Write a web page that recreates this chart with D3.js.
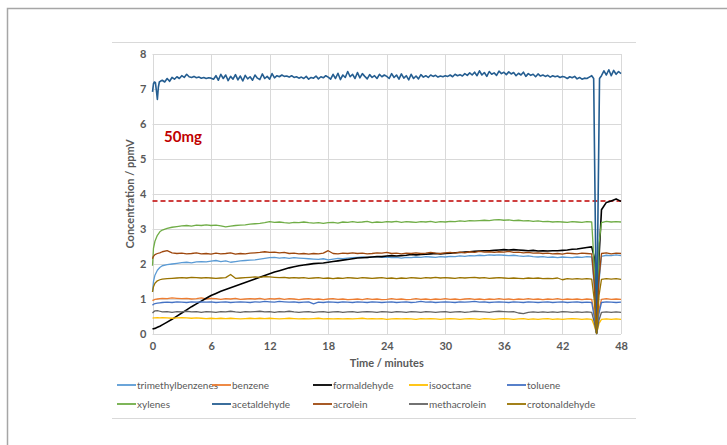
<!DOCTYPE html>
<html>
<head>
<meta charset="utf-8">
<script src="https://cdn.jsdelivr.net/npm/d3@7"></script>
<style>
  html, body { margin: 0; padding: 0; background: #fff; }
  svg { display: block; font-family: Lato, "Open Sans", sans-serif; }
</style>
</head>
<body>
<svg id="chart" width="727" height="445"></svg>
<script>
// sampling times (minutes) shared by most series
const times = [0, 0.1, 0.25, 0.5, 0.75, 1,
  1.5, 2, 2.5, 3, 3.5, 4, 4.5, 5,
  5.5, 6, 6.5, 7, 7.5, 8, 8.5, 9, 9.5, 10,
  10.5, 11, 11.5, 12, 12.5, 13, 13.5, 14, 14.5, 15,
  15.5, 16, 16.5, 17, 17.5, 18, 18.5, 19, 19.5, 20,
  20.5, 21, 21.5, 22, 22.5, 23, 23.5, 24, 24.5, 25,
  25.5, 26, 26.5, 27, 27.5, 28, 28.5, 29, 29.5, 30,
  30.5, 31, 31.5, 32, 32.5, 33, 33.5, 34, 34.5, 35,
  35.5, 36, 36.5, 37, 37.5, 38, 38.5, 39, 39.5, 40,
  40.5, 41, 41.5, 42, 42.5, 43, 43.5, 44, 44.5, 45,
  45.25, 45.5, 45.75, 46, 46.5, 47, 47.5, 48];

const trimethylbenzenes = [1.20, 1.50, 1.68, 1.82, 1.90, 1.95,
  1.98, 2.00, 2.02, 2.04, 2.05, 2.03, 2.06, 2.07,
  2.06, 2.08, 2.10, 2.07, 2.09, 2.05, 2.07, 2.09, 2.10, 2.11,
  2.12, 2.14, 2.16, 2.18, 2.19, 2.17, 2.18, 2.16, 2.18, 2.17,
  2.16, 2.15, 2.14, 2.13, 2.15, 2.12, 2.14, 2.16, 2.15, 2.17,
  2.18, 2.19, 2.20, 2.18, 2.20, 2.21, 2.19, 2.20, 2.18, 2.19,
  2.17, 2.19, 2.18, 2.20, 2.19, 2.21, 2.20, 2.19, 2.21, 2.20,
  2.22, 2.21, 2.23, 2.22, 2.24, 2.23, 2.25, 2.24, 2.26, 2.25,
  2.26, 2.25, 2.24, 2.25, 2.23, 2.22, 2.23, 2.21, 2.20, 2.21,
  2.19, 2.20, 2.18, 2.20, 2.19, 2.18, 2.20, 2.19, 2.21, 2.20,
  1.40, 0.02, 1.50, 2.22, 2.25, 2.24, 2.26, 2.24];

const benzene = [0.95, 0.97, 0.99, 1.00, 1.01, 1.02,
  1.01, 1.03, 1.02, 1.01, 1.02, 1.00, 1.01, 1.03,
  1.00, 1.02, 1.01, 0.99, 1.01, 1.00, 1.02, 0.99, 1.00, 1.01,
  1.00, 1.02, 0.99, 1.01, 1.00, 1.02, 0.99, 1.01, 1.00, 0.98,
  1.00, 1.01, 0.99, 1.00, 0.98, 1.00, 1.01, 0.99, 1.00, 0.98,
  0.99, 1.00, 0.98, 1.01, 0.99, 1.00, 0.98, 0.99, 1.01, 0.99,
  1.00, 0.98, 0.99, 1.01, 0.99, 1.00, 0.98, 1.00, 0.99, 1.01,
  0.99, 1.00, 0.98, 1.00, 1.01, 0.99, 1.00, 0.98, 1.00, 0.99,
  1.01, 0.99, 1.00, 0.98, 1.00, 0.99, 1.01, 0.99, 1.00, 0.98,
  1.00, 0.99, 1.01, 0.98, 1.00, 0.99, 1.00, 0.98, 1.00, 0.99,
  0.60, 0.02, 0.70, 0.99, 1.01, 0.99, 1.00, 0.99];

const formaldehyde = [0.14, 0.15, 0.16, 0.19, 0.22, 0.26,
  0.34, 0.42, 0.51, 0.60, 0.69, 0.78, 0.86, 0.94,
  1.02, 1.10, 1.16, 1.22, 1.27, 1.32, 1.37, 1.42, 1.47, 1.52,
  1.57, 1.62, 1.67, 1.72, 1.77, 1.81, 1.85, 1.89, 1.92, 1.95,
  1.97, 1.99, 2.01, 2.02, 2.03, 2.05, 2.07, 2.09, 2.11, 2.13,
  2.15, 2.17, 2.18, 2.19, 2.20, 2.21, 2.21, 2.23, 2.24, 2.23,
  2.24, 2.25, 2.27, 2.26, 2.27, 2.28, 2.29, 2.30, 2.29, 2.30,
  2.31, 2.32, 2.33, 2.34, 2.35, 2.36, 2.37, 2.38, 2.38, 2.39,
  2.40, 2.41, 2.40, 2.41, 2.40, 2.39, 2.38, 2.39, 2.37, 2.38,
  2.37, 2.38, 2.38, 2.39, 2.40, 2.42, 2.43, 2.45, 2.47, 2.49,
  2.20, 0.05, 2.20, 3.55, 3.76, 3.80, 3.86, 3.79];

const isooctane = [0.45, 0.46, 0.46, 0.47, 0.46, 0.47,
  0.46, 0.45, 0.46, 0.47, 0.46, 0.45, 0.46, 0.45,
  0.44, 0.45, 0.44, 0.45, 0.44, 0.45, 0.44, 0.43, 0.44, 0.45,
  0.44, 0.45, 0.44, 0.45, 0.44, 0.43, 0.44, 0.45, 0.44, 0.43,
  0.44, 0.43, 0.44, 0.45, 0.43, 0.44, 0.43, 0.44, 0.43, 0.44,
  0.43, 0.44, 0.45, 0.43, 0.44, 0.43, 0.44, 0.42, 0.43, 0.44,
  0.43, 0.44, 0.43, 0.42, 0.44, 0.43, 0.44, 0.43, 0.42, 0.43,
  0.44, 0.43, 0.42, 0.43, 0.44, 0.43, 0.42, 0.44, 0.43, 0.42,
  0.43, 0.44, 0.43, 0.42, 0.43, 0.44, 0.42, 0.43, 0.42, 0.43,
  0.44, 0.42, 0.43, 0.42, 0.43, 0.44, 0.43, 0.42, 0.43, 0.42,
  0.25, 0.01, 0.30, 0.42, 0.43, 0.42, 0.43, 0.42];

const toluene = [0.82, 0.85, 0.87, 0.88, 0.89, 0.90,
  0.91, 0.90, 0.92, 0.91, 0.90, 0.92, 0.91, 0.92,
  0.91, 0.92, 0.90, 0.91, 0.92, 0.90, 0.91, 0.92, 0.91, 0.90,
  0.92, 0.91, 0.93, 0.92, 0.91, 0.93, 0.92, 0.91, 0.92, 0.90,
  0.91, 0.92, 0.86, 0.91, 0.90, 0.92, 0.91, 0.90, 0.92, 0.91,
  0.90, 0.92, 0.91, 0.90, 0.92, 0.91, 0.90, 0.91, 0.92, 0.90,
  0.91, 0.92, 0.90, 0.91, 0.93, 0.91, 0.92, 0.90, 0.91, 0.92,
  0.91, 0.90, 0.92, 0.91, 0.92, 0.93, 0.91, 0.92, 0.90, 0.91,
  0.92, 0.91, 0.90, 0.92, 0.91, 0.90, 0.92, 0.91, 0.90, 0.91,
  0.92, 0.90, 0.91, 0.92, 0.90, 0.91, 0.92, 0.90, 0.91, 0.90,
  0.50, 0.01, 0.60, 0.90, 0.92, 0.91, 0.90, 0.91];

const xylenes = [1.95, 2.45, 2.65, 2.82, 2.92, 2.97,
  3.02, 3.05, 3.07, 3.09, 3.10, 3.08, 3.11, 3.10,
  3.12, 3.10, 3.11, 3.09, 3.06, 3.08, 3.10, 3.11, 3.12, 3.14,
  3.15, 3.16, 3.18, 3.21, 3.19, 3.20, 3.18, 3.17, 3.19, 3.18,
  3.20, 3.18, 3.17, 3.18, 3.16, 3.18, 3.19, 3.17, 3.20, 3.19,
  3.21, 3.19, 3.20, 3.22, 3.18, 3.20, 3.19, 3.21, 3.20, 3.22,
  3.19, 3.21, 3.20, 3.19, 3.21, 3.20, 3.22, 3.19, 3.21, 3.20,
  3.22, 3.21, 3.23, 3.22, 3.24, 3.23, 3.24, 3.25, 3.24, 3.26,
  3.27, 3.25, 3.26, 3.24, 3.25, 3.23, 3.24, 3.22, 3.23, 3.21,
  3.22, 3.20, 3.21, 3.20, 3.19, 3.21, 3.20, 3.19, 3.21, 3.20,
  2.00, 0.03, 2.60, 3.18, 3.22, 3.20, 3.21, 3.20];

const acrolein = [2.15, 2.22, 2.27, 2.30, 2.32, 2.35,
  2.38, 2.32, 2.30, 2.31, 2.29, 2.30, 2.32, 2.29,
  2.30, 2.28, 2.31, 2.29, 2.30, 2.32, 2.28, 2.30, 2.29, 2.31,
  2.32, 2.33, 2.35, 2.33, 2.34, 2.32, 2.33, 2.30, 2.31, 2.29,
  2.30, 2.28, 2.30, 2.29, 2.31, 2.38, 2.30, 2.29, 2.31, 2.30,
  2.32, 2.30, 2.31, 2.29, 2.30, 2.32, 2.31, 2.33, 2.30, 2.31,
  2.29, 2.31, 2.30, 2.32, 2.30, 2.31, 2.33, 2.31, 2.30, 2.32,
  2.33, 2.31, 2.34, 2.32, 2.35, 2.33, 2.36, 2.34, 2.35, 2.33,
  2.35, 2.34, 2.36, 2.33, 2.34, 2.32, 2.33, 2.31, 2.32, 2.30,
  2.31, 2.29, 2.30, 2.28, 2.31, 2.30, 2.29, 2.31, 2.30, 2.29,
  1.50, 0.02, 1.60, 2.30, 2.32, 2.29, 2.31, 2.30];

const methacrolein = [0.60, 0.63, 0.66, 0.67, 0.65, 0.63,
  0.64, 0.62, 0.64, 0.63, 0.65, 0.63, 0.64, 0.62,
  0.64, 0.63, 0.62, 0.64, 0.63, 0.65, 0.63, 0.62, 0.64, 0.63,
  0.64, 0.65, 0.63, 0.64, 0.62, 0.64, 0.63, 0.65, 0.63, 0.62,
  0.63, 0.64, 0.62, 0.63, 0.64, 0.62, 0.63, 0.64, 0.62, 0.63,
  0.64, 0.62, 0.63, 0.64, 0.63, 0.62, 0.64, 0.63, 0.62, 0.64,
  0.63, 0.62, 0.64, 0.63, 0.62, 0.64, 0.63, 0.62, 0.63, 0.64,
  0.62, 0.63, 0.64, 0.62, 0.63, 0.65, 0.64, 0.63, 0.62, 0.64,
  0.65, 0.64, 0.63, 0.64, 0.60, 0.58, 0.62, 0.63, 0.62, 0.63,
  0.62, 0.63, 0.62, 0.64, 0.63, 0.62, 0.63, 0.62, 0.63, 0.62,
  0.35, 0.01, 0.40, 0.62, 0.63, 0.62, 0.63, 0.62];

const crotonaldehyde = [1.20, 1.35, 1.45, 1.52, 1.55, 1.57,
  1.58, 1.59, 1.60, 1.61, 1.60, 1.62, 1.61, 1.60,
  1.61, 1.60, 1.59, 1.60, 1.61, 1.70, 1.59, 1.60, 1.61, 1.62,
  1.63, 1.62, 1.64, 1.63, 1.62, 1.61, 1.62, 1.60, 1.61, 1.60,
  1.61, 1.59, 1.60, 1.61, 1.59, 1.60, 1.58, 1.60, 1.59, 1.61,
  1.60, 1.59, 1.61, 1.60, 1.59, 1.60, 1.61, 1.59, 1.60, 1.58,
  1.60, 1.59, 1.61, 1.60, 1.59, 1.61, 1.60, 1.62, 1.60, 1.61,
  1.60, 1.59, 1.61, 1.60, 1.61, 1.62, 1.60, 1.61, 1.59, 1.60,
  1.61, 1.60, 1.59, 1.60, 1.59, 1.58, 1.60, 1.59, 1.60, 1.58,
  1.59, 1.58, 1.60, 1.55, 1.58, 1.57, 1.58, 1.57, 1.58, 1.57,
  1.00, 0.02, 1.10, 1.56, 1.58, 1.57, 1.58, 1.56];

// acetaldehyde is logged at a finer step
const acetTimes = [0, 0.1, 0.2, 0.3, 0.4, 0.5, 0.6, 0.7, 0.8, 1,
  1.25, 1.5, 1.75, 2, 2.25, 2.5, 2.75, 3,
  3.25, 3.5, 3.75, 4, 4.25, 4.5, 4.75, 5, 5.25, 5.5, 5.75, 6,
  6.25, 6.5, 6.75, 7, 7.25, 7.5, 7.75, 8, 8.25, 8.5, 8.75, 9,
  9.25, 9.5, 9.75, 10, 10.25, 10.5, 10.75, 11, 11.25, 11.5, 11.75, 12,
  12.25, 12.5, 12.75, 13, 13.25, 13.5, 13.75, 14, 14.25, 14.5, 14.75, 15,
  15.25, 15.5, 15.75, 16, 16.25, 16.5, 16.75, 17, 17.25, 17.5, 17.75, 18,
  18.25, 18.5, 18.75, 19, 19.25, 19.5, 19.75, 20, 20.25, 20.5, 20.75, 21,
  21.25, 21.5, 21.75, 22, 22.25, 22.5, 22.75, 23, 23.25, 23.5, 23.75, 24,
  24.25, 24.5, 24.75, 25, 25.25, 25.5, 25.75, 26, 26.25, 26.5, 26.75, 27,
  27.25, 27.5, 27.75, 28, 28.25, 28.5, 28.75, 29, 29.25, 29.5, 29.75, 30,
  30.25, 30.5, 30.75, 31, 31.25, 31.5, 31.75, 32, 32.25, 32.5, 32.75, 33,
  33.25, 33.5, 33.75, 34, 34.25, 34.5, 34.75, 35, 35.25, 35.5, 35.75, 36,
  36.25, 36.5, 36.75, 37, 37.25, 37.5, 37.75, 38, 38.25, 38.5, 38.75, 39,
  39.25, 39.5, 39.75, 40, 40.25, 40.5, 40.75, 41, 41.25, 41.5, 41.75, 42,
  42.25, 42.5, 42.75, 43, 43.25, 43.5, 43.75, 44, 44.25, 44.5, 44.75, 45,
  45.2, 45.5, 45.8,
  46, 46.25, 46.5, 46.75, 47, 47.25, 47.5, 47.75, 48];

const acetaldehyde = [6.92, 7.15, 7.20, 7.18, 6.95, 6.70, 7.05, 7.20, 7.22, 7.25,
  7.20, 7.30, 7.22, 7.33, 7.28, 7.35, 7.30, 7.38,
  7.33, 7.42, 7.35, 7.33, 7.36, 7.32, 7.34, 7.31, 7.33, 7.30, 7.32, 7.31,
  7.28, 7.38, 7.25, 7.42, 7.30, 7.40, 7.24, 7.36, 7.28, 7.41, 7.26, 7.37,
  7.23, 7.39, 7.29, 7.35, 7.25, 7.40, 7.31, 7.27, 7.43, 7.30, 7.36, 7.28,
  7.44, 7.32, 7.38, 7.35, 7.40, 7.36, 7.37, 7.34, 7.38, 7.33, 7.35, 7.31,
  7.34, 7.30, 7.36, 7.28, 7.33, 7.31, 7.37, 7.29, 7.35, 7.32, 7.38, 7.34,
  7.28, 7.42, 7.30, 7.45, 7.27, 7.40, 7.33, 7.50, 7.35, 7.42, 7.30, 7.47,
  7.32, 7.44, 7.36, 7.29, 7.41, 7.33, 7.38, 7.30, 7.42, 7.35, 7.40, 7.36,
  7.30, 7.44, 7.33, 7.40, 7.28, 7.43, 7.31, 7.38, 7.26, 7.42, 7.30, 7.37,
  7.29, 7.41, 7.34, 7.38, 7.33, 7.40, 7.36, 7.39, 7.34, 7.37, 7.35, 7.38,
  7.36, 7.40, 7.35, 7.42, 7.38, 7.41, 7.37, 7.44, 7.39, 7.46, 7.40, 7.48,
  7.38, 7.52, 7.40, 7.47, 7.36, 7.50, 7.42, 7.46, 7.39, 7.51, 7.44, 7.48,
  7.41, 7.49, 7.43, 7.47, 7.38, 7.45, 7.40, 7.48, 7.36, 7.44, 7.39, 7.42,
  7.35, 7.43, 7.37, 7.40, 7.36, 7.39, 7.34, 7.38, 7.35, 7.37, 7.33, 7.36,
  7.34, 7.30, 7.35, 7.32, 7.36, 7.29, 7.33, 7.28, 7.31, 7.30, 7.34, 7.38,
  7.30, 0.03, 7.30,
  7.38, 7.52, 7.40, 7.55, 7.38, 7.53, 7.42, 7.50, 7.44];

const limitValue = 3.8;   // dashed reference line
const xTicks = [0, 6, 12, 18, 24, 30, 36, 42, 48];
const yTicks = [0, 1, 2, 3, 4, 5, 6, 7, 8];

const names = ['trimethylbenzenes', 'benzene', 'formaldehyde', 'isooctane', 'toluene',
  'xylenes', 'acetaldehyde', 'acrolein', 'methacrolein', 'crotonaldehyde'];
const colors = ['#5B9BD5', '#ED7D31', '#000000', '#FFC000', '#4472C4',
  '#70AD47', '#255E91', '#9E480E', '#636363', '#997300'];

const seriesValues = [trimethylbenzenes, benzene, formaldehyde, isooctane, toluene,
  xylenes, acetaldehyde, acrolein, methacrolein, crotonaldehyde];

const series = names.map(function(n, i) {
  const t = n === 'acetaldehyde' ? acetTimes : times;
  return {
    name: n,
    color: colors[i],
    width: (n === 'acetaldehyde' || n === 'formaldehyde') ? 1.6 : 1.3,
    points: seriesValues[i].map(function(v, j) { return [t[j], v]; })
  };
});

const svg = d3.select('#chart');

// outer frame
svg.append('path')
  .attr('d', 'M7.5,445 V8.5 H727')
  .attr('fill', 'none').attr('stroke', '#a6a6a6').attr('stroke-width', 1.5);
svg.append('line').attr('x1', 112).attr('x2', 636).attr('y1', 42.5).attr('y2', 42.5)
  .attr('stroke', '#d9d9d9');
svg.append('line').attr('x1', 112).attr('x2', 636).attr('y1', 418.5).attr('y2', 418.5)
  .attr('stroke', '#d9d9d9');

const x = d3.scaleLinear().domain([0, 48]).range([152.5, 621]);
const y = d3.scaleLinear().domain([0, 8]).range([334, 54]);

// gridlines
const grid = svg.append('g');
grid.selectAll('line.gx').data(xTicks).join('line')
  .attr('x1', d => Math.round(x(d)) + 0.5).attr('x2', d => Math.round(x(d)) + 0.5)
  .attr('y1', y(8)).attr('y2', y(0))
  .attr('stroke', '#d9d9d9');
grid.selectAll('line.gy').data(yTicks).join('line')
  .attr('y1', d => Math.round(y(d)) + 0.5).attr('y2', d => Math.round(y(d)) + 0.5)
  .attr('x1', x(0)).attr('x2', x(48))
  .attr('stroke', '#d9d9d9');

// axes (labels only, Excel style)
const xAxis = svg.append('g')
  .attr('transform', 'translate(0,' + (y(0) + 4) + ')')
  .call(d3.axisBottom(x).tickValues(xTicks).tickSize(0).tickPadding(4));
const yAxis = svg.append('g')
  .attr('transform', 'translate(' + (x(0) - 6) + ',0)')
  .call(d3.axisLeft(y).tickValues(yTicks).tickSize(0).tickPadding(0));
[xAxis, yAxis].forEach(function(a) {
  a.select('.domain').remove();
  a.selectAll('text')
    .attr('fill', '#595959')
    .style('font-family', 'Lato, sans-serif')
    .style('font-size', '11px')
    .style('font-weight', 'bold');
});

// axis titles
svg.append('text')
  .attr('x', (x(0) + x(48)) / 2).attr('y', 367)
  .attr('text-anchor', 'middle')
  .attr('fill', '#595959')
  .style('font-size', '11px').style('font-weight', 'bold')
  .text('Time / minutes');
svg.append('text')
  .attr('transform', 'translate(134,' + ((y(0) + y(8)) / 2) + ') rotate(-90)')
  .attr('text-anchor', 'middle')
  .attr('fill', '#595959')
  .style('font-size', '11px').style('font-weight', 'bold')
  .text('Concentration / ppmV');

// reference line
svg.append('line')
  .attr('x1', x(0)).attr('x2', x(48))
  .attr('y1', y(limitValue)).attr('y2', y(limitValue))
  .attr('stroke', '#C00000').attr('stroke-width', 1.3)
  .attr('stroke-dasharray', '5,3');

// series
const line = d3.line().x(d => x(d[0])).y(d => y(d[1]));
svg.append('g').selectAll('path').data(series).join('path')
  .attr('d', d => line(d.points))
  .attr('fill', 'none')
  .attr('stroke', d => d.color)
  .attr('stroke-width', d => d.width)
  .attr('stroke-linejoin', 'round');

// label
svg.append('text')
  .attr('x', 164).attr('y', 142)
  .attr('fill', '#C00000')
  .style('font-size', '15px').style('font-weight', 'bold')
  .text('50mg');

// legend: 5 columns, 2 rows
const legendCols = [117, 212, 313, 409, 507];
const legendRows = [385, 404];
const legend = svg.append('g').selectAll('g').data(series).join('g')
  .attr('transform', (d, i) => 'translate(' + legendCols[i % 5] + ',' + legendRows[Math.floor(i / 5)] + ')');
legend.append('line')
  .attr('x1', 0).attr('x2', 19)
  .attr('stroke', d => d.color).attr('stroke-width', 1.8);
legend.append('text')
  .attr('x', 20).attr('dy', '0.35em')
  .attr('fill', '#595959')
  .style('font-size', '10px')
  .text(d => d.name);
</script>
</body>
</html>
